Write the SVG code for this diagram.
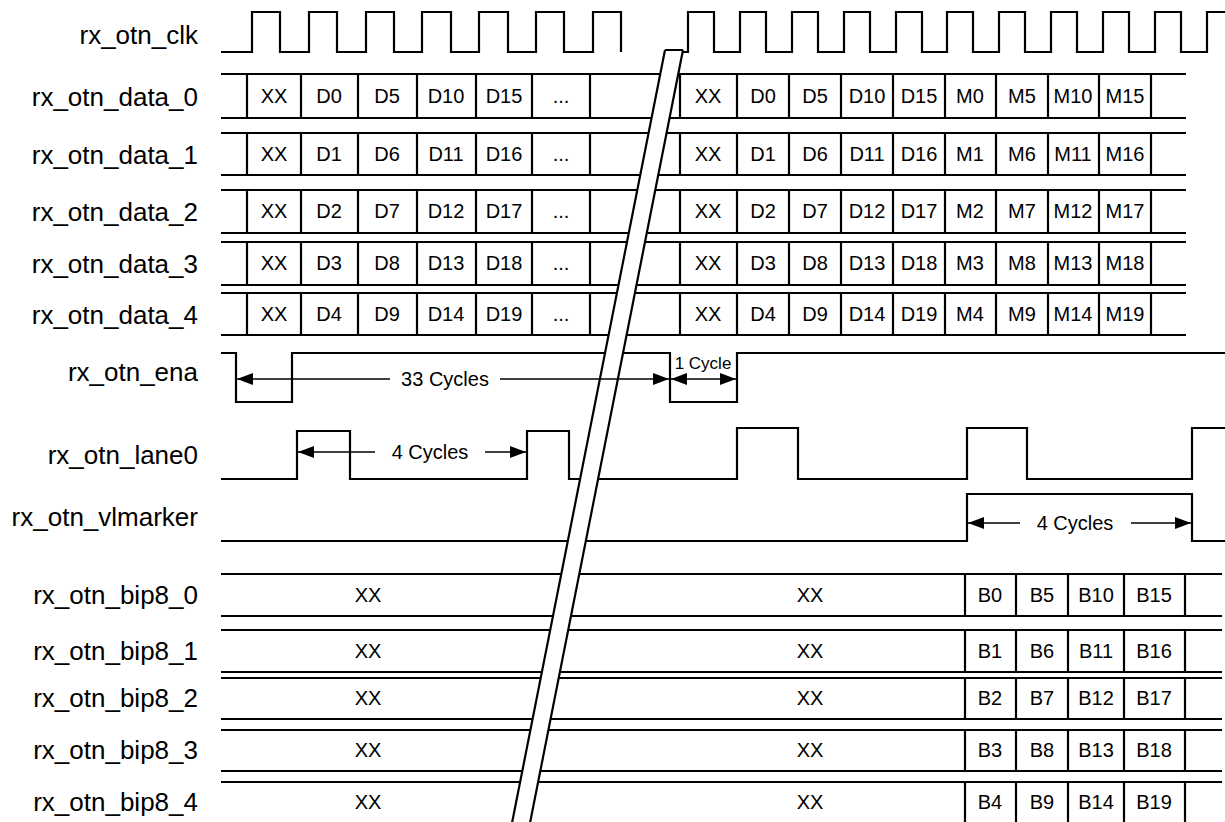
<svg xmlns="http://www.w3.org/2000/svg" width="1225" height="822" viewBox="0 0 1225 822">
<defs>
<marker id="ah" markerUnits="userSpaceOnUse" markerWidth="17" markerHeight="12" refX="16" refY="6" orient="auto"><path d="M0,0 L16,6 L0,12 z" fill="#000"/></marker>
</defs>
<style>
.w{fill:none;stroke:#000;stroke-width:2.2}
.lbl{font-family:"Liberation Sans",Arial,sans-serif;font-size:26px;text-anchor:end;fill:#000}
.c{font-family:"Liberation Sans",Arial,sans-serif;font-size:20px;text-anchor:middle;fill:#000}
.s{font-family:"Liberation Sans",Arial,sans-serif;font-size:17px;text-anchor:middle;fill:#000}
.dim{stroke:#000;stroke-width:1.5;fill:none}
</style>
<rect width="1225" height="822" fill="#fff"/>

<g id="labels">
<text class="lbl" x="198" y="44">rx_otn_clk</text>
<text class="lbl" x="198" y="106">rx_otn_data_0</text>
<text class="lbl" x="198" y="164">rx_otn_data_1</text>
<text class="lbl" x="198" y="221">rx_otn_data_2</text>
<text class="lbl" x="198" y="273">rx_otn_data_3</text>
<text class="lbl" x="198" y="324">rx_otn_data_4</text>
<text class="lbl" x="198" y="381">rx_otn_ena</text>
<text class="lbl" x="198" y="464">rx_otn_lane0</text>
<text class="lbl" x="198" y="526">rx_otn_vlmarker</text>
<text class="lbl" x="198" y="604">rx_otn_bip8_0</text>
<text class="lbl" x="198" y="660">rx_otn_bip8_1</text>
<text class="lbl" x="198" y="707">rx_otn_bip8_2</text>
<text class="lbl" x="198" y="759">rx_otn_bip8_3</text>
<text class="lbl" x="198" y="811">rx_otn_bip8_4</text>
</g>

<g id="clk">
<path class="w" d="M221,52 H252 V12 H280 V52 H309 V12 H337 V52 H366 V12 H394 V52 H422 V12 H451 V52 H479 V12 H508 V52 H536 V12 H564 V52 H593 V12 H621 V52"/>
<path class="w" d="M682,52 H688 V12 H714 V52 H740 V12 H766 V52 H792 V12 H818 V52 H844 V12 H870 V52 H896 V12 H922 V52 H947 V12 H973 V52 H999 V12 H1025 V52 H1051 V12 H1077 V52 H1103 V12 H1129 V52 H1155 V12 H1181 V52 H1207 V12 H1226"/>
</g>

<g id="data_0">
<path class="w" d="M221,74 H1186 M221,118 H1186 M247,74 V118 M301,74 V118 M358,74 V118 M417,74 V118 M476,74 V118 M532,74 V118 M590,74 V118 M680,74 V118 M737,74 V118 M789,74 V118 M841,74 V118 M893,74 V118 M945,74 V118 M996,74 V118 M1048,74 V118 M1099,74 V118 M1151,74 V118"/>
<g class="c"><text x="274" y="103">XX</text><text x="329" y="103">D0</text><text x="387" y="103">D5</text><text x="446" y="103">D10</text><text x="504" y="103">D15</text><text x="561" y="103">...</text>
<text x="708" y="103">XX</text><text x="763" y="103">D0</text><text x="815" y="103">D5</text><text x="867" y="103">D10</text><text x="919" y="103">D15</text><text x="970" y="103">M0</text><text x="1022" y="103">M5</text><text x="1073" y="103">M10</text><text x="1125" y="103">M15</text></g>
</g>

<g id="data_1">
<path class="w" d="M221,133 H1186 M221,175 H1186 M247,133 V175 M301,133 V175 M358,133 V175 M417,133 V175 M476,133 V175 M532,133 V175 M590,133 V175 M680,133 V175 M737,133 V175 M789,133 V175 M841,133 V175 M893,133 V175 M945,133 V175 M996,133 V175 M1048,133 V175 M1099,133 V175 M1151,133 V175"/>
<g class="c"><text x="274" y="161">XX</text><text x="329" y="161">D1</text><text x="387" y="161">D6</text><text x="446" y="161">D11</text><text x="504" y="161">D16</text><text x="561" y="161">...</text>
<text x="708" y="161">XX</text><text x="763" y="161">D1</text><text x="815" y="161">D6</text><text x="867" y="161">D11</text><text x="919" y="161">D16</text><text x="970" y="161">M1</text><text x="1022" y="161">M6</text><text x="1073" y="161">M11</text><text x="1125" y="161">M16</text></g>
</g>

<g id="data_2">
<path class="w" d="M221,190 H1186 M221,233 H1186 M247,190 V233 M301,190 V233 M358,190 V233 M417,190 V233 M476,190 V233 M532,190 V233 M590,190 V233 M680,190 V233 M737,190 V233 M789,190 V233 M841,190 V233 M893,190 V233 M945,190 V233 M996,190 V233 M1048,190 V233 M1099,190 V233 M1151,190 V233"/>
<g class="c"><text x="274" y="218">XX</text><text x="329" y="218">D2</text><text x="387" y="218">D7</text><text x="446" y="218">D12</text><text x="504" y="218">D17</text><text x="561" y="218">...</text>
<text x="708" y="218">XX</text><text x="763" y="218">D2</text><text x="815" y="218">D7</text><text x="867" y="218">D12</text><text x="919" y="218">D17</text><text x="970" y="218">M2</text><text x="1022" y="218">M7</text><text x="1073" y="218">M12</text><text x="1125" y="218">M17</text></g>
</g>

<g id="data_3">
<path class="w" d="M221,242 H1186 M221,285 H1186 M247,242 V285 M301,242 V285 M358,242 V285 M417,242 V285 M476,242 V285 M532,242 V285 M590,242 V285 M680,242 V285 M737,242 V285 M789,242 V285 M841,242 V285 M893,242 V285 M945,242 V285 M996,242 V285 M1048,242 V285 M1099,242 V285 M1151,242 V285"/>
<g class="c"><text x="274" y="270">XX</text><text x="329" y="270">D3</text><text x="387" y="270">D8</text><text x="446" y="270">D13</text><text x="504" y="270">D18</text><text x="561" y="270">...</text>
<text x="708" y="270">XX</text><text x="763" y="270">D3</text><text x="815" y="270">D8</text><text x="867" y="270">D13</text><text x="919" y="270">D18</text><text x="970" y="270">M3</text><text x="1022" y="270">M8</text><text x="1073" y="270">M13</text><text x="1125" y="270">M18</text></g>
</g>

<g id="data_4">
<path class="w" d="M221,293 H1186 M221,335 H1186 M247,293 V335 M301,293 V335 M358,293 V335 M417,293 V335 M476,293 V335 M532,293 V335 M590,293 V335 M680,293 V335 M737,293 V335 M789,293 V335 M841,293 V335 M893,293 V335 M945,293 V335 M996,293 V335 M1048,293 V335 M1099,293 V335 M1151,293 V335"/>
<g class="c"><text x="274" y="321">XX</text><text x="329" y="321">D4</text><text x="387" y="321">D9</text><text x="446" y="321">D14</text><text x="504" y="321">D19</text><text x="561" y="321">...</text>
<text x="708" y="321">XX</text><text x="763" y="321">D4</text><text x="815" y="321">D9</text><text x="867" y="321">D14</text><text x="919" y="321">D19</text><text x="970" y="321">M4</text><text x="1022" y="321">M9</text><text x="1073" y="321">M14</text><text x="1125" y="321">M19</text></g>
</g>

<g id="ena">
<path class="w" d="M221,353 H236 V402 H292 V353 H670 V402 H737 V353 H1226"/>
</g>

<g id="lane0">
<path class="w" d="M221,479 H297 V431 H350 V479 H527 V431 H569 V479 H737 V428 H798 V479 H967 V428 H1027 V479 H1192 V428 H1226"/>
</g>

<g id="vlmarker">
<path class="w" d="M221,541 H967 V494 H1192 V541 H1226"/>
</g>

<g id="bip8_0">
<path class="w" d="M221,574 H1222 M221,616 H1222 M965,574 V616 M1016,574 V616 M1068,574 V616 M1124,574 V616 M1185,574 V616"/>
<g class="c"><text x="368" y="602">XX</text><text x="810" y="602">XX</text><text x="990" y="602">B0</text><text x="1042" y="602">B5</text><text x="1096" y="602">B10</text><text x="1154" y="602">B15</text></g>
</g>
<g id="bip8_1">
<path class="w" d="M221,630 H1222 M221,672 H1222 M965,630 V672 M1016,630 V672 M1068,630 V672 M1124,630 V672 M1185,630 V672"/>
<g class="c"><text x="368" y="658">XX</text><text x="810" y="658">XX</text><text x="990" y="658">B1</text><text x="1042" y="658">B6</text><text x="1096" y="658">B11</text><text x="1154" y="658">B16</text></g>
</g>
<g id="bip8_2">
<path class="w" d="M221,678 H1222 M221,719 H1222 M965,678 V719 M1016,678 V719 M1068,678 V719 M1124,678 V719 M1185,678 V719"/>
<g class="c"><text x="368" y="705">XX</text><text x="810" y="705">XX</text><text x="990" y="705">B2</text><text x="1042" y="705">B7</text><text x="1096" y="705">B12</text><text x="1154" y="705">B17</text></g>
</g>
<g id="bip8_3">
<path class="w" d="M221,730 H1222 M221,771 H1222 M965,730 V771 M1016,730 V771 M1068,730 V771 M1124,730 V771 M1185,730 V771"/>
<g class="c"><text x="368" y="757">XX</text><text x="810" y="757">XX</text><text x="990" y="757">B3</text><text x="1042" y="757">B8</text><text x="1096" y="757">B13</text><text x="1154" y="757">B18</text></g>
</g>
<g id="bip8_4">
<path class="w" d="M221,782 H1222 M965,782 V822 M1016,782 V822 M1068,782 V822 M1124,782 V822 M1185,782 V822"/>
<g class="c"><text x="368" y="809">XX</text><text x="810" y="809">XX</text><text x="990" y="809">B4</text><text x="1042" y="809">B9</text><text x="1096" y="809">B14</text><text x="1154" y="809">B19</text></g>
</g>

<g id="break">
<polygon points="665,50 683,50 530,823 512,823" fill="#fff"/>
<path class="w" d="M665,50 L512,823 M683,50 L530,823 M665,50 H683"/>
</g>

<g id="connectors">
<path class="dim" d="M390,379 H237" marker-end="url(#ah)"/>
<path class="dim" d="M500,379 H669" marker-end="url(#ah)"/>
<path class="dim" d="M703,379 H671" marker-end="url(#ah)"/>
<path class="dim" d="M703,379 H736" marker-end="url(#ah)"/>
<path class="dim" d="M375,452 H298" marker-end="url(#ah)"/>
<path class="dim" d="M485,452 H526" marker-end="url(#ah)"/>
<path class="dim" d="M1020,523 H968" marker-end="url(#ah)"/>
<path class="dim" d="M1131,523 H1191" marker-end="url(#ah)"/>
<text class="c" x="445" y="386">33 Cycles</text>
<text class="s" x="703" y="369">1 Cycle</text>
<text class="c" x="430" y="459">4 Cycles</text>
<text class="c" x="1075" y="530">4 Cycles</text>
</g>
</svg>
